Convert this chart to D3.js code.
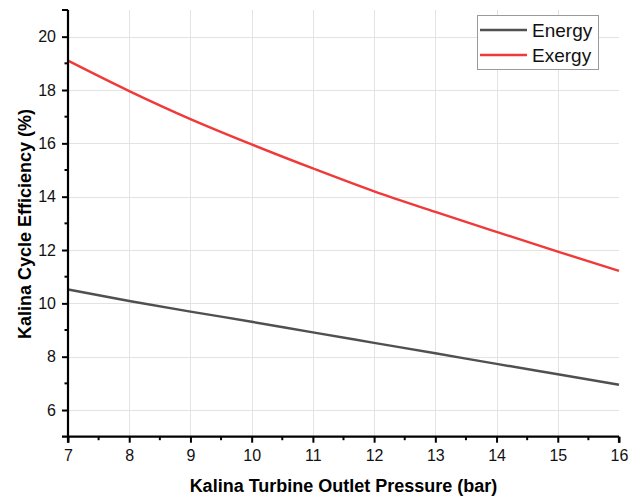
<!DOCTYPE html>
<html><head><meta charset="utf-8">
<script src="https://cdn.jsdelivr.net/npm/d3@7"></script>
<style>body{margin:0;background:#fff}svg{display:block;font-family:Arial,"Liberation Sans",sans-serif}</style>
</head><body><svg id="c" width="639" height="500"></svg>
<script>
const pressure = [7, 8, 9, 10, 11, 12, 13, 14, 15, 16];
const energy = [10.52, 10.09, 9.69, 9.31, 8.91, 8.52, 8.13, 7.73, 7.34, 6.95];
const exergy = [19.1, 17.96, 16.91, 15.96, 15.06, 14.2, 13.43, 12.68, 11.94, 11.22];
const xTicks = [7, 8, 9, 10, 11, 12, 13, 14, 15, 16];
const yTicks = [6, 8, 10, 12, 14, 16, 18, 20];
const seriesNames = ["Energy", "Exergy"];
const seriesColors = ["#505050", "#f03a3a"];

const svg = d3.select("#c");
const x = d3.scaleLinear().domain([7, 16]).range([68, 619]);
const y = d3.scaleLinear().domain([5, 21]).range([436.7, 10]);

// grid
const grid = svg.append("g").attr("stroke", "#e3e3e3").attr("stroke-width", 1);
grid.selectAll(".gx").data(xTicks.filter(d => d > 7 && d < 16)).join("line")
  .attr("x1", d => Math.round(x(d)) + 0.5).attr("x2", d => Math.round(x(d)) + 0.5)
  .attr("y1", y(21)).attr("y2", y(5));
grid.selectAll(".gy").data(yTicks).join("line")
  .attr("y1", d => Math.round(y(d)) + 0.5).attr("y2", d => Math.round(y(d)) + 0.5)
  .attr("x1", x(7)).attr("x2", x(16));

// lines
const line = d3.line().x((d, i) => x(pressure[i])).y(d => y(d)).curve(d3.curveMonotoneX);
[energy, exergy].forEach((s, k) => {
  svg.append("path").datum(s).attr("d", line).attr("fill", "none")
    .attr("stroke", seriesColors[k]).attr("stroke-width", 2.4);
});

// axes
const minorX = d3.range(7.5, 16, 1);
const minorY = [7, 9, 11, 13, 15, 17, 19];
const xAxis = d3.axisBottom(x).tickValues(xTicks).tickFormat(d3.format("d")).tickSize(6).tickPadding(7);
const gx = svg.append("g").attr("transform", `translate(0,${y(5)})`).call(xAxis);
gx.append("g").selectAll("line").data(minorX).join("line")
  .attr("x1", d => x(d)).attr("x2", d => x(d)).attr("y1", 0).attr("y2", 3.5)
  .attr("stroke", "#000").attr("stroke-width", 2);
const yAxis = d3.axisLeft(y).tickValues(yTicks).tickFormat(d3.format("d")).tickSize(6).tickPadding(6);
const gy = svg.append("g").attr("transform", `translate(${x(7)},0)`).call(yAxis);
gy.append("g").selectAll("line").data(minorY).join("line")
  .attr("y1", d => y(d)).attr("y2", d => y(d)).attr("x1", 0).attr("x2", -3.5)
  .attr("stroke", "#000").attr("stroke-width", 2);
[gx, gy].forEach(g => {
  g.attr("font-size", 16).attr("font-family", "Arial, 'Liberation Sans', sans-serif");
  g.select(".domain").attr("stroke", "#000").attr("stroke-width", 2.2);
  g.selectAll(".tick line").attr("stroke", "#000").attr("stroke-width", 2);
  g.selectAll(".tick text").attr("fill", "#111");
});
gx.select(".domain").attr("d", `M${x(7)},0H${x(16)}M${x(16)},0V6M${x(7)},0V6`);
gy.select(".domain").attr("d", `M0,${y(5)}V${y(21)}M0,${y(21)}H-6M0,${y(5)}H-6`);

// titles
svg.append("text").attr("x", 343.5).attr("y", 492).attr("text-anchor", "middle")
  .attr("font-size", 18).attr("font-weight", "bold").text("Kalina Turbine Outlet Pressure (bar)");
svg.append("text").attr("transform", "translate(31,224) rotate(-90)").attr("text-anchor", "middle")
  .attr("font-size", 18).attr("font-weight", "bold").text("Kalina Cycle Efficiency (%)");

// legend
const lg = svg.append("g");
lg.append("rect").attr("x", 477.5).attr("y", 15.5).attr("width", 121).attr("height", 54)
  .attr("fill", "#fff").attr("stroke", "#9a9a9a").attr("stroke-width", 1);
seriesNames.forEach((n, i) => {
  const yy = 30 + i * 25;
  lg.append("line").attr("x1", 480).attr("x2", 527).attr("y1", yy).attr("y2", yy)
    .attr("stroke", seriesColors[i]).attr("stroke-width", 2.4);
  lg.append("text").attr("x", 532).attr("y", yy + 6.5).attr("font-size", 19).attr("fill", "#111").text(n);
});
</script></body></html>
